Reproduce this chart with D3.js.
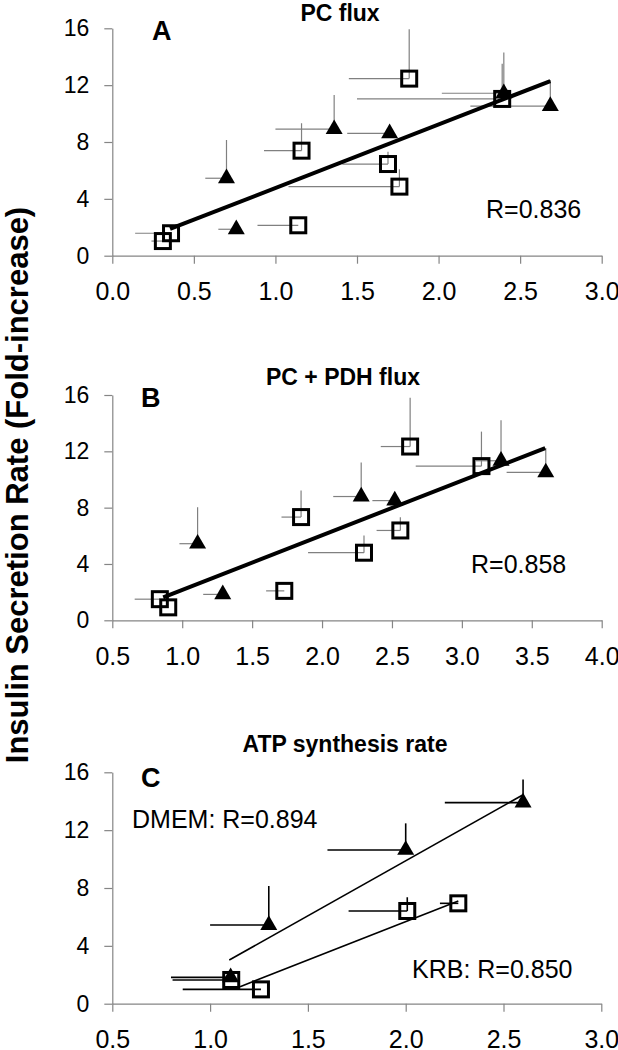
<!DOCTYPE html>
<html>
<head>
<meta charset="utf-8">
<script src="https://cdn.jsdelivr.net/npm/d3@7"></script>
<style>
  html, body { margin: 0; padding: 0; background: #fff; }
  text { font-family: "Liberation Sans", Arial, sans-serif; }
</style>
</head>
<body>
<script>
// ---------- DATA ----------
const yTicks = [0, 4, 8, 12, 16];
const xTicksA = [0, 0.5, 1.0, 1.5, 2.0, 2.5, 3.0];
const xTicksB = [0.5, 1.0, 1.5, 2.0, 2.5, 3.0, 3.5, 4.0];
const xTicksC = [0.5, 1.0, 1.5, 2.0, 2.5, 3.0];

// Panel A – PC flux
const aSqX    = [0.31, 0.36, 1.14, 1.16, 1.69, 1.76, 1.82, 2.39];
const aSqY    = [1.03, 1.58, 2.14, 7.39, 6.45, 4.86, 12.46, 11.03];
const aSqXErr = [0.07, 0.22, 0.25, 0.23, 0.28, 0.68, 0.37, 0.89];
const aSqYErr = [0, 0, 0, 1.93, 0.87, 1.22, 3.47, 2.47];
const aTrX    = [0.70, 0.76, 1.36, 1.70, 2.40, 2.685];
const aTrY    = [5.45, 1.86, 8.90, 8.61, 11.43, 10.53];
const aTrXErr = [0.13, 0.11, 0.36, 0.26, 0.38, 0.49];
const aTrYErr = [2.69, 0, 2.40, 0, 2.87, 1.83];
const aFit    = [[0.354, 1.88], [2.685, 12.29]];

// Panel B – PC + PDH flux
const bSqX    = [0.84, 0.90, 1.73, 1.85, 2.30, 2.56, 2.63, 3.14];
const bSqY    = [1.50, 0.92, 2.09, 7.33, 4.80, 6.38, 12.34, 10.95];
const bSqXErr = [0.18, 0, 0.13, 0.14, 0.40, 0.17, 0.21, 0.47];
const bSqYErr = [0, 0, 0, 1.88, 1.23, 0.94, 3.46, 2.45];
const bTrX    = [1.11, 1.29, 2.28, 2.52, 3.28, 3.60];
const bTrY    = [5.44, 1.84, 8.79, 8.50, 11.33, 10.50];
const bTrXErr = [0.13, 0.14, 0.20, 0.16, 0.18, 0.28];
const bTrYErr = [2.59, 0, 2.41, 0, 2.87, 1.73];
const bFit    = [[0.864, 1.63], [3.596, 12.23]];

// Panel C – ATP synthesis rate
const cDmemX    = [1.105, 1.30, 2.00, 2.60];
const cDmemY    = [1.82, 5.44, 10.63, 13.90];
const cDmemXErr = [0.305, 0.30, 0.40, 0.40];
const cDmemYErr = [0.40, 2.70, 1.84, 1.60];
const cKrbX     = [1.108, 1.26, 2.008, 2.269];
const cKrbY     = [1.64, 0.99, 6.41, 6.94];
const cKrbXErr  = [0.30, 0.40, 0.30, 0.094];
const cKrbYErr  = [0, 0, 0.95, 0];
const cDmemFit  = [[1.098, 3.02], [2.598, 14.43]];
const cKrbFit   = [[1.153, 1.18], [2.269, 7.10]];

const yTitle = "Insulin Secretion Rate (Fold-increase)";

// ---------- DRAW ----------
const svg = d3.select("body").append("svg").attr("width", 618).attr("height", 1050);
const axisColor = "#858585";

function zip(xs, ys, xe, ye) { return xs.map((x, i) => ({x, y: ys[i], xe: xe[i], ye: ye[i]})); }

function panel(cfg) {
  const x = d3.scaleLinear().domain(cfg.xDomain).range([112.3, cfg.xRight]);
  const y = d3.scaleLinear().domain([0, 16]).range([cfg.bottom, cfg.top]);
  const g = svg.append("g");

  const ya = g.append("g").attr("transform", `translate(${x.range()[0]},0)`)
    .call(d3.axisLeft(y).tickValues(yTicks).tickSize(8).tickSizeOuter(0).tickPadding(15).tickFormat(d3.format("d")));
  ya.selectAll("text").attr("font-size", 23).attr("fill", "#000").attr("font-family", "Liberation Sans, Arial, sans-serif");
  const xa = g.append("g").attr("transform", `translate(0,${cfg.bottom})`)
    .call(d3.axisBottom(x).tickValues(cfg.xTicks).tickSize(8).tickSizeOuter(0).tickPadding(19).tickFormat(d3.format(".1f")));
  xa.selectAll("text").attr("font-size", 25).attr("fill", "#000").attr("font-family", "Liberation Sans, Arial, sans-serif");
  [ya, xa].forEach(a => { a.selectAll("path,line").attr("stroke", axisColor).attr("stroke-width", 1.2); });

  // error bars
  cfg.series.forEach(s => {
    const eg = g.append("g").attr("stroke", cfg.errColor).attr("stroke-width", cfg.errWidth);
    eg.selectAll("line.h").data(s.data.filter(d => d.xe > 0)).join("line")
      .attr("x1", d => x(d.x - d.xe)).attr("x2", d => x(d.x))
      .attr("y1", d => y(d.y)).attr("y2", d => y(d.y));
    eg.selectAll("line.v").data(s.data.filter(d => d.ye > 0)).join("line").attr("class", "v")
      .attr("x1", d => x(d.x)).attr("x2", d => x(d.x))
      .attr("y1", d => y(d.y)).attr("y2", d => y(d.y + d.ye));
  });

  // markers
  cfg.series.forEach(s => {
    if (s.shape === "square") {
      g.append("g").selectAll("rect").data(s.data).join("rect")
        .attr("x", d => x(d.x) - 7.5).attr("y", d => y(d.y) - 7.5)
        .attr("width", 15).attr("height", 15)
        .attr("fill", "none").attr("stroke", "#000").attr("stroke-width", 3);
    } else {
      g.append("g").selectAll("path").data(s.data).join("path")
        .attr("transform", d => `translate(${x(d.x)},${y(d.y)})`)
        .attr("d", d3.symbol(d3.symbolTriangle, 125)).attr("fill", "#000");
    }
  });

  // fit lines
  cfg.fits.forEach(f => {
    g.append("path").datum(f.pts)
      .attr("d", d3.line().x(d => x(d[0])).y(d => y(d[1])))
      .attr("stroke", "#000").attr("stroke-width", f.w).attr("fill", "none");
  });

  // title, letter, labels
  g.append("text").attr("x", cfg.titleX).attr("y", cfg.titleY).attr("text-anchor", "middle")
    .attr("font-size", 23).attr("font-weight", "bold").text(cfg.title);
  g.append("text").attr("x", cfg.letterX).attr("y", cfg.letterY)
    .attr("font-size", 27).attr("font-weight", "bold").text(cfg.letter);
  cfg.labels.forEach(l => {
    g.append("text").attr("x", l.x).attr("y", l.y).attr("font-size", 25).text(l.t);
  });
}

panel({
  xDomain: [0, 3], xRight: 601.7, top: 28.3, bottom: 255.7, xTicks: xTicksA,
  errColor: "#808080", errWidth: 1.2,
  series: [
    {shape: "square", data: zip(aSqX, aSqY, aSqXErr, aSqYErr)},
    {shape: "triangle", data: zip(aTrX, aTrY, aTrXErr, aTrYErr)}
  ],
  fits: [{pts: aFit, w: 4}],
  title: "PC flux", titleX: 340, titleY: 21,
  letter: "A", letterX: 152, letterY: 40,
  labels: [{t: "R=0.836", x: 486, y: 218}]
});

panel({
  xDomain: [0.5, 4], xRight: 601.7, top: 395, bottom: 620.3, xTicks: xTicksB,
  errColor: "#808080", errWidth: 1.2,
  series: [
    {shape: "square", data: zip(bSqX, bSqY, bSqXErr, bSqYErr)},
    {shape: "triangle", data: zip(bTrX, bTrY, bTrXErr, bTrYErr)}
  ],
  fits: [{pts: bFit, w: 4}],
  title: "PC + PDH flux", titleX: 343, titleY: 385,
  letter: "B", letterX: 141, letterY: 407,
  labels: [{t: "R=0.858", x: 471, y: 573}]
});

panel({
  xDomain: [0.5, 3], xRight: 601.3, top: 772.3, bottom: 1003.7, xTicks: xTicksC,
  errColor: "#000", errWidth: 1.6,
  series: [
    {shape: "square", data: zip(cKrbX, cKrbY, cKrbXErr, cKrbYErr)},
    {shape: "triangle", data: zip(cDmemX, cDmemY, cDmemXErr, cDmemYErr)}
  ],
  fits: [{pts: cDmemFit, w: 1.6}, {pts: cKrbFit, w: 1.6}],
  title: "ATP synthesis rate", titleX: 345, titleY: 752,
  letter: "C", letterX: 141, letterY: 787,
  labels: [{t: "DMEM: R=0.894", x: 132, y: 828}, {t: "KRB: R=0.850", x: 412, y: 978}]
});

svg.append("text").attr("transform", "translate(28,485) rotate(-90)")
  .attr("text-anchor", "middle").attr("font-size", 31).attr("font-weight", "bold")
  .text(yTitle);
</script>
</body>
</html>
